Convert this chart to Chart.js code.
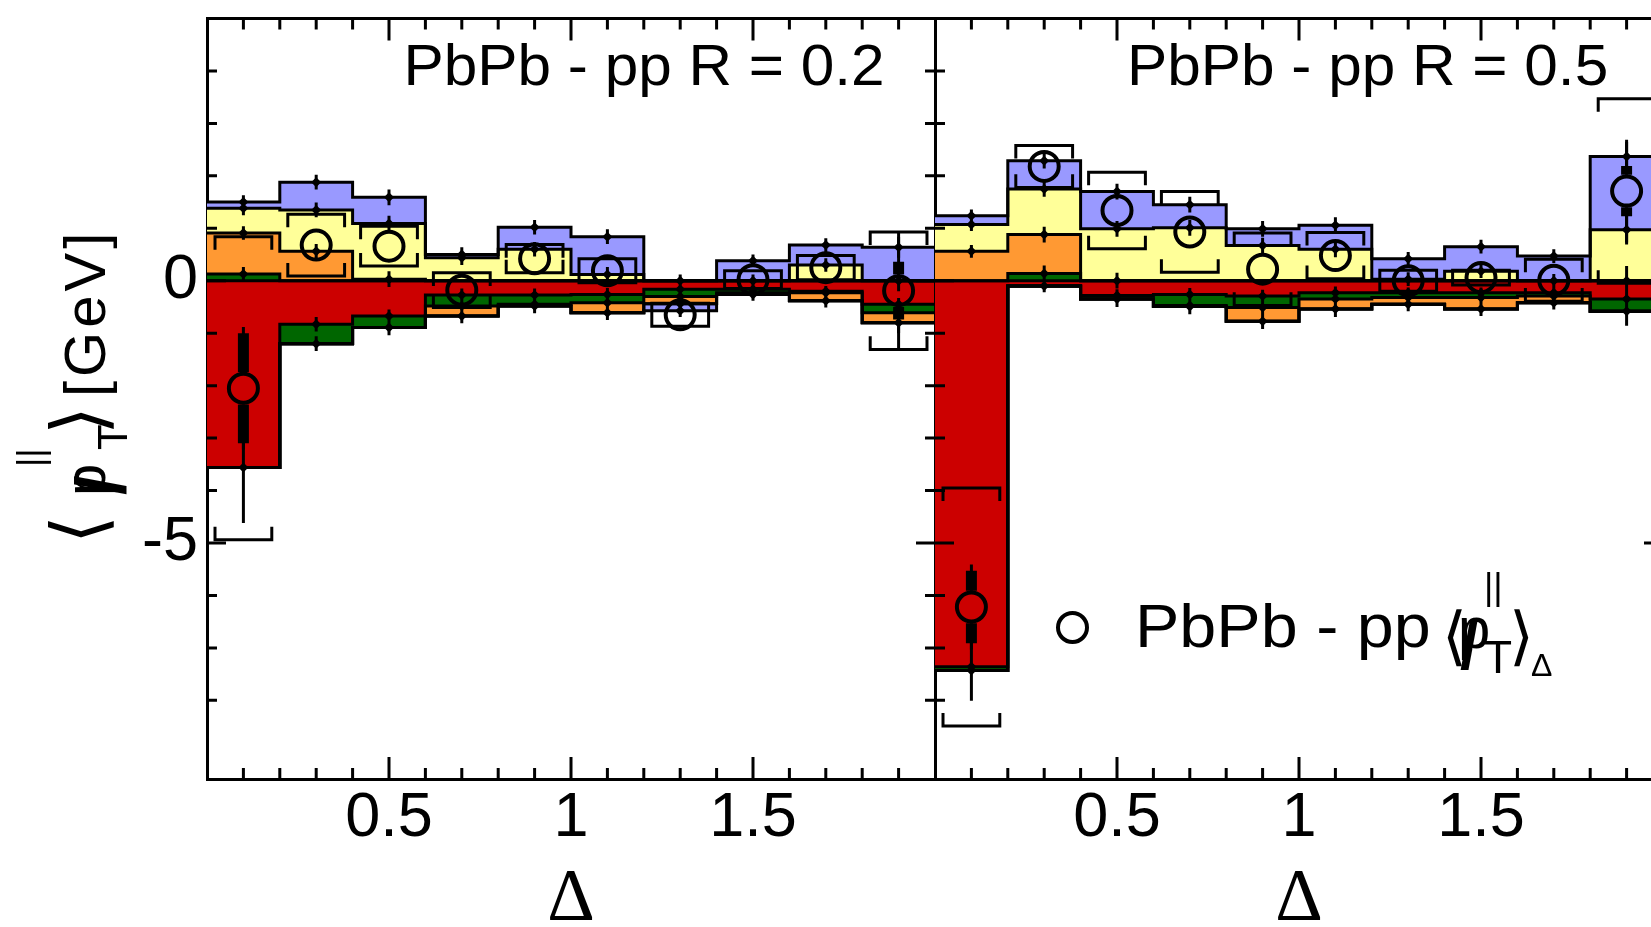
<!DOCTYPE html>
<html>
<head>
<meta charset="utf-8">
<title>PbPb - pp missing pT</title>
<script src="https://cdn.jsdelivr.net/npm/chart.js@4.4.1/dist/chart.umd.min.js"></script>
<style>
  html, body { margin:0; padding:0; background:#ffffff; overflow:hidden; }
  #wrap { position:relative; width:1651px; height:927px; overflow:hidden; background:#ffffff; }
  canvas { position:absolute; top:0; }
  #cA { left:0; width:960px; height:927px; }
  #cB { left:895px; width:793px; height:927px; }
  .txt { position:absolute; font-family:"Liberation Sans", Arial, Helvetica, sans-serif; font-size:58px; line-height:1; color:#000; white-space:nowrap; }
  .dj { font-family:"DejaVu Sans", sans-serif; }
  .bold { font-weight:bold; }
  #tA { right:766px; top:36px; transform-origin:100% 50%; transform:scaleX(1.04); }
  #tB { left:1127px; top:36px; transform-origin:0 50%; transform:scaleX(1.04); }
  #ytitle { position:absolute; left:0; top:560px; width:340px; height:130px; transform-origin:0 0; transform:rotate(-90deg); }
  #legmark { position:absolute; left:1056px; top:611px; width:25px; height:25px; border:4px solid #000; border-radius:50%; }
  #legtxt { left:1135px; top:596px; font-size:61px; transform-origin:0 50%; transform:scaleX(1.09); }
</style>
</head>
<body>
<div id="wrap">
  <canvas id="cA" width="960" height="927"></canvas>
  <canvas id="cB" width="793" height="927"></canvas>
  <div class="txt" id="tA">PbPb - pp R = 0.2</div>
  <div class="txt" id="tB">PbPb - pp R = 0.5</div>

  <div id="ytitle">
    <span class="txt dj" style="left:16px; top:41px; font-size:74px;">⟨</span>
    <span class="txt" style="left:64px; top:56px;">p</span>
    <span class="txt bold" style="left:65px; top:66px; font-size:70px;">/</span>
    <span class="txt" style="left:93px; top:13px; font-size:36px;">||</span>
    <span class="txt" style="left:110px; top:92px; font-size:42px;">T</span>
    <span class="txt dj" style="left:125px; top:41px; font-size:74px;">⟩</span>
    <span class="txt" style="left:163px; top:56px; letter-spacing:4px;">[GeV]</span>
  </div>

  <div id="legmark"></div>
  <div class="txt" id="legtxt">PbPb - pp</div>
  <span class="txt dj" style="left:1442px; top:604px; font-size:64px;">⟨</span>
  <span class="txt" style="left:1458px; top:599px;">p</span>
  <span class="txt bold" style="left:1460px; top:612px; font-size:66px;">/</span>
  <span class="txt" style="left:1484px; top:569px; font-size:36px;">||</span>
  <span class="txt" style="left:1484px; top:634px; font-size:46px;">T</span>
  <span class="txt dj" style="left:1509px; top:604px; font-size:64px;">⟩</span>
  <span class="txt" style="left:1531px; top:649px; font-size:32px;">Δ</span>
</div>
<script>
// ---------------- data ----------------
const binEdges   = [0, 0.2, 0.4, 0.6, 0.8, 1.0, 1.2, 1.4, 1.6, 1.8, 2.0];
const binCenters = [0.1, 0.3, 0.5, 0.7, 0.9, 1.1, 1.3, 1.5, 1.7, 1.9];

const xTickValues = [0.5, 1, 1.5];
const xTickLabels = ['0.5', '1', '1.5'];
const yTickValues = [0, -5];
const yTickLabels = ['0', '-5'];

// R = 0.2 panel: per-bin contributions (stack order red, green, orange, yellow, blue)
const r02Red    = [-3.56, -0.83, -0.67, -0.27, -0.27, -0.26, -0.16, -0.16, -0.20, -0.45];
const r02Green  = [ 0.13, -0.37, -0.22, -0.21, -0.18, -0.16, -0.14, -0.07, -0.03, -0.16];
const r02Orange = [ 0.78,  0.56,  0.03, -0.19, -0.03, -0.19, -0.14, -0.03, -0.15, -0.19];
const r02Yellow = [ 0.47,  0.79,  1.06,  0.44,  0.60,  0.12,  0.00,  0.00,  0.30,  0.00];
const r02Blue   = [ 0.12,  0.53,  0.50,  0.06,  0.42,  0.72, -0.13,  0.38,  0.38,  0.64];
const r02BandErr = [0.13, 0.14, 0.15, 0.14, 0.14, 0.14, 0.12, 0.12, 0.13, 0.20];
const r02RedErr  = [1.06, 0.14, 0.12, 0.12, 0.12, 0.12, 0.10, 0.10, 0.10, 0.12];
const r02Point  = [-2.05,  0.68,  0.66, -0.18,  0.42,  0.19, -0.65,  0.02,  0.25, -0.19];
const r02Sys    = [ 2.89,  0.59,  0.38,  0.33,  0.27,  0.23,  0.22,  0.17,  0.23,  1.12];
const r02Stat   = [ 1.05,  0.12,  0.12,  0.10,  0.10,  0.10,  0.10,  0.10,  0.12,  0.55];
const r02Tot    = [ 1.17,  0.20,  0.20,  0.15,  0.15,  0.15,  0.15,  0.15,  0.20,  1.10];

// R = 0.5 panel
const r05Red    = [-7.36, -0.10, -0.28, -0.26, -0.29, -0.23, -0.23, -0.23, -0.23, -0.35];
const r05Green  = [-0.07,  0.14, -0.07, -0.21, -0.22, -0.12, -0.09, -0.09, -0.06, -0.23];
const r05Orange = [ 0.56,  0.74,  0.00, -0.02, -0.26, -0.19, -0.13, -0.22, -0.13,  0.00];
const r05Yellow = [ 0.51,  0.87,  0.99,  1.01,  0.67,  0.60,  0.03,  0.18,  0.00,  0.97];
const r05Blue   = [ 0.17,  0.54,  0.71,  0.44,  0.32,  0.46,  0.39,  0.47,  0.47,  1.40];
const r05BandErr = [0.12, 0.15, 0.15, 0.15, 0.15, 0.15, 0.13, 0.13, 0.13, 0.28];
const r05RedErr  = [0.65, 0.12, 0.12, 0.12, 0.12, 0.12, 0.10, 0.10, 0.10, 0.14];
const r05Point  = [-6.22,  2.18,  1.34,  0.93,  0.22,  0.48,  0.00,  0.06,  0.01,  1.71];
const r05Sys    = [ 2.27,  0.40,  0.73,  0.77,  0.69,  0.44,  0.20,  0.14,  0.40,  1.76];
const r05Stat   = [ 0.69,  0.12,  0.15,  0.15,  0.12,  0.12,  0.10,  0.10,  0.12,  0.48];
const r05Tot    = [ 0.81,  0.20,  0.22,  0.22,  0.18,  0.18,  0.15,  0.15,  0.18,  0.98];

// ---------------- style ----------------
const BAND_COLORS = ['#cc0000', '#006600', '#ff9933', '#ffff99', '#9999ff'];
const FONT = '"Liberation Sans", Arial, Helvetica, sans-serif';
const BRACKET_HALF = 0.078;   // x units
const BRACKET_TICK = 0.25;    // y units
const MARKER_GAP = 0.31;      // y units (marker radius)
const TICK_X_MAJOR = 22, TICK_X_MINOR = 11, TICK_Y_MAJOR = 19, TICK_Y_MINOR = 10;

function stepData(arr) {
  const n = arr.length;
  return binEdges.map((x, i) => ({x, y: arr[Math.min(i, n - 1)]}));
}

function band(cum, ci, fill) {
  return {
    type: 'line', data: stepData(cum), stepped: true, fill,
    backgroundColor: BAND_COLORS[ci], borderColor: '#000', borderWidth: 3,
    pointRadius: 0, order: 100, clip: 0, xAxisID: 'x', yAxisID: 'y'
  };
}

function segLine(data, width, order) {
  return {
    type: 'line', data, borderColor: '#000', borderWidth: width, pointRadius: 0,
    fill: false, spanGaps: false, order, borderCapStyle: 'butt', borderJoinStyle: 'miter',
    xAxisID: 'x', yAxisID: 'y'
  };
}

function panelDatasets(p) {
  const comps = [p.red, p.green, p.orange, p.yellow, p.blue];
  const n = binCenters.length;
  let pAcc = new Array(n).fill(0), nAcc = new Array(n).fill(0);
  const pos = [], neg = [], edge = [];
  comps.forEach(vals => {
    const pc = pAcc.map((a, i) => a + Math.max(vals[i], 0));
    const nc = nAcc.map((a, i) => a + Math.min(vals[i], 0));
    pos.push(pc); neg.push(nc);
    edge.push(vals.map((v, i) => v >= 0 ? pc[i] : nc[i]));
    pAcc = pc; nAcc = nc;
  });
  const ds = [];
  pos.forEach((c, ci) => ds.push(band(c, ci, ci === 0 ? 'origin' : '-1')));
  neg.forEach((c, ci) => ds.push(band(c, ci, ci === 0 ? 'origin' : '-1')));

  const errPts = [], diaPts = [];
  edge.forEach((e, ci) => e.forEach((y, i) => {
    const er = ci === 0 ? p.redErr[i] : p.bandErr[i];
    const x = binCenters[i];
    errPts.push({x, y: y - er}, {x, y: y + er}, {x, y: null});
    diaPts.push({x, y});
  }));

  const br = [];
  binCenters.forEach((x, i) => {
    const hi = p.point[i] + p.sys[i], lo = p.point[i] - p.sys[i];
    const l = x - BRACKET_HALF, r = x + BRACKET_HALF;
    br.push({x: l, y: hi - BRACKET_TICK}, {x: l, y: hi}, {x: r, y: hi}, {x: r, y: hi - BRACKET_TICK}, {x: r, y: null});
    br.push({x: l, y: lo + BRACKET_TICK}, {x: l, y: lo}, {x: r, y: lo}, {x: r, y: lo + BRACKET_TICK}, {x: r, y: null});
  });

  const bars = err => {
    const out = [];
    binCenters.forEach((x, i) => {
      const y = p.point[i], e = err[i];
      if (e > MARKER_GAP) {
        out.push({x, y: y + MARKER_GAP}, {x, y: y + e}, {x, y: null},
                 {x, y: y - MARKER_GAP}, {x, y: y - e}, {x, y: null});
      }
    });
    return out;
  };

  ds.push(segLine(br, 3, 50));
  ds.push(segLine(errPts, 3, 40));
  ds.push({type: 'line', data: diaPts, showLine: false, pointStyle: 'rectRot', pointRadius: 5,
           pointBackgroundColor: '#000', pointBorderWidth: 0, order: 30, fill: false, xAxisID: 'x', yAxisID: 'y'});
  ds.push(segLine(bars(p.tot), 3, 21));
  ds.push(segLine(bars(p.stat), 11, 20));
  ds.push({type: 'line', data: binCenters.map((x, i) => ({x, y: p.point[i]})), showLine: false,
           pointStyle: 'circle', pointRadius: 14.5, pointBorderWidth: 4, pointBorderColor: '#000',
           pointBackgroundColor: 'rgba(0,0,0,0)', order: 10, fill: false, xAxisID: 'x', yAxisID: 'y'});
  return ds;
}

function labelFor(v, vals, labels) {
  const k = vals.findIndex(t => Math.abs(t - v) < 1e-6);
  return k >= 0 ? labels[k] : '';
}

const inwardTicks = {
  id: 'inwardTicks',
  afterDraw(chart) {
    const {ctx, chartArea: a} = chart;
    const sx = chart.scales.x, sy = chart.scales.y;
    ctx.save();
    ctx.strokeStyle = '#000'; ctx.lineWidth = 3; ctx.lineCap = 'butt';
    ctx.beginPath();
    sx.ticks.forEach(t => {
      if (t.value <= sx.min + 1e-6 || t.value >= sx.max - 1e-6) return;
      const major = Math.abs(t.value * 2 - Math.round(t.value * 2)) < 1e-6;
      const len = major ? TICK_X_MAJOR : TICK_X_MINOR;
      const px = sx.getPixelForValue(t.value);
      ctx.moveTo(px, a.bottom); ctx.lineTo(px, a.bottom - len);
      ctx.moveTo(px, a.top); ctx.lineTo(px, a.top + len);
    });
    sy.ticks.forEach(t => {
      if (t.value <= sy.min + 1e-6 || t.value >= sy.max - 1e-6) return;
      const major = Math.abs(t.value / 5 - Math.round(t.value / 5)) < 1e-6;
      const len = major ? TICK_Y_MAJOR : TICK_Y_MINOR;
      const py = sy.getPixelForValue(t.value);
      ctx.moveTo(a.left, py); ctx.lineTo(a.left + len, py);
      ctx.moveTo(a.right, py); ctx.lineTo(a.right - len, py);
    });
    ctx.stroke();
    ctx.restore();
  }
};

function fixSize(prop, val) {
  return s => {
    s[prop] = val;
    s.paddingTop = 0; s.paddingBottom = 0; s.paddingLeft = 0; s.paddingRight = 0;
  };
}

function makeScales(leftW, showYLabels) {
  const border = {display: true, color: '#000', width: 3};
  return {
    x: {
      type: 'linear', min: 0, max: 2, position: 'bottom', z: 1,
      afterFit: fixSize('height', 148),
      ticks: {stepSize: 0.1, autoSkip: false, maxRotation: 0, minRotation: 0, padding: 0, color: '#000',
              font: {family: FONT, size: 63, lineHeight: 1}, callback: v => labelFor(v, xTickValues, xTickLabels)},
      grid: {display: false}, border,
      title: {display: true, text: 'Δ', color: '#000',
              font: {family: '"Liberation Serif", "DejaVu Serif", serif', size: 74, lineHeight: 1},
              padding: {top: 0, bottom: -11}}
    },
    xTop: {
      type: 'linear', min: 0, max: 2, position: 'top', z: 1,
      afterFit: fixSize('height', 14),
      ticks: {display: false, stepSize: 0.1}, grid: {display: false}, border
    },
    y: {
      type: 'linear', min: -9.5, max: 5, position: 'left', z: 1,
      afterFit: fixSize('width', leftW),
      ticks: {display: showYLabels, stepSize: 1, autoSkip: false, padding: 1, color: '#000',
              font: {family: FONT, size: 63, lineHeight: 1}, callback: v => labelFor(v, yTickValues, yTickLabels)},
      grid: {display: false}, border
    },
    yRight: {
      type: 'linear', min: -9.5, max: 5, position: 'right', z: 1,
      afterFit: fixSize('width', 25),
      ticks: {display: false, stepSize: 1}, grid: {display: false}, border
    }
  };
}

function makeChart(id, panel, leftW, showYLabels) {
  return new Chart(document.getElementById(id), {
    type: 'line',
    data: {datasets: panelDatasets(panel)},
    options: {
      responsive: false, maintainAspectRatio: false, animation: false, events: [],
      layout: {padding: 0},
      plugins: {legend: {display: false}, tooltip: {enabled: false},
                filler: {drawTime: 'beforeDatasetsDraw', propagate: false}},
      scales: makeScales(leftW, showYLabels)
    },
    plugins: [inwardTicks]
  });
}

makeChart('cA', {red: r02Red, green: r02Green, orange: r02Orange, yellow: r02Yellow, blue: r02Blue,
                 bandErr: r02BandErr, redErr: r02RedErr, point: r02Point, sys: r02Sys, stat: r02Stat, tot: r02Tot},
          207, true);
makeChart('cB', {red: r05Red, green: r05Green, orange: r05Orange, yellow: r05Yellow, blue: r05Blue,
                 bandErr: r05BandErr, redErr: r05RedErr, point: r05Point, sys: r05Sys, stat: r05Stat, tot: r05Tot},
          40, false);
</script>
</body>
</html>
